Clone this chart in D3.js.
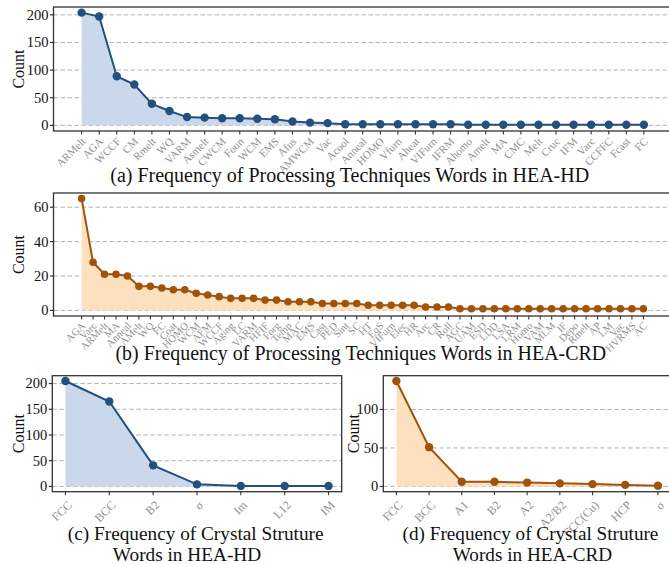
<!DOCTYPE html>
<html><head><meta charset="utf-8">
<script src="https://cdn.jsdelivr.net/npm/d3@7"></script>
<style>body{margin:0;background:#fff} svg{display:block}</style>
</head><body><svg id="c" width="669" height="564"></svg>
<script>
// ---------- DATA ----------
const catsA = ["ARMelt","AGA","WCCF","CM","Rmelt","WQ","VARM","Asmelt","CWCM","Foun","WCM","EMS","Afus","AMWCM","Vac","Acool","Anneal","HOMO","Vfurn","Aheat","VIFurn","IFRM","Ahomo","Amelt","MA","CMC","Melt","Cruc","IFM","Varc","CCFFC","Fcast","FC"];
const valsA = [204,197,89,74,39,26,15,14,13,13,12,11,7,5,4,2,2,2,2,2,2,2,1,1,1,1,1,1,1,1,1,1,1];
const ticksA = [0,50,100,150,200];

const catsB = ["AGA","Varc","ARMelt","MA","Anneal","AMelt","WQ","FC","Coat","HOMO","WCM","AFM","WCCF","Aging","LC","VARM","HFIF","Forg","Temp","MAC","EMS","Cast","PED","Sint","SC","HT","EqS","VIFurn","Elec","HR","Arc","CR","Roll","AGC","UAM","ESD","LDD","LSA","LRM","Homo","VAM","MLM","IF","Depo","Rmelt","AP","LM","Vac","HVRMS","AC"];
const valsB = [65,28,21,21,20,14,14,13,12,12,10,9,8,7,7,7,6,6,5,5,5,4,4,4,4,3,3,3,3,3,2,2,2,1,1,1,1,1,1,1,1,1,1,1,1,1,1,1,1,1];
const ticksB = [0,20,40,60];

const catsC = ["FCC","BCC","B2","σ","Im","L12","IM"];
const valsC = [205,165,41,4,1,1,1];
const ticksC = [0,50,100,150,200];

const catsD = ["FCC","BCC","A1","B2","A2","A2/B2","FCC(Cu)","HCP","σ"];
const valsD = [137,51,6,6,5,4,3,2,1];
const ticksD = [0,50,100];

const captionA = ["(a) Frequency of Processing Techniques Words in HEA-HD"];
const captionB = ["(b) Frequency of Processing Techniques Words in HEA-CRD"];
const captionC = ["(c) Frequency of Crystal Struture", "Words in HEA-HD"];
const captionD = ["(d) Frequency of Crystal Struture", "Words in HEA-CRD"];

// ---------- STYLE ----------
const BLUE = {line:"#23507c", fill:"#c9d8eb"};
const ORANGE = {line:"#a0530b", fill:"#fde1bf"};
const FONT = "'Liberation Serif','Times New Roman',serif";

const svg = d3.select("#c");

function panel(cfg){
  const g = svg.append("g");
  const n = cfg.cats.length;
  const maxV = d3.max(cfg.vals);
  const x = d3.scaleLinear().domain([-(n-1)*0.05, (n-1)*1.05]).range([cfg.left, cfg.right]);
  const y = d3.scaleLinear().domain([-maxV*0.05, maxV*1.05]).range([cfg.bottom, cfg.top]);

  const cid = "clip"+cfg.id;
  svg.append("clipPath").attr("id",cid).append("rect")
    .attr("x",cfg.left).attr("y",cfg.top).attr("width",cfg.right-cfg.left).attr("height",cfg.bottom-cfg.top);

  g.append("g").selectAll("line").data(cfg.ticks).join("line")
    .attr("x1",cfg.left).attr("x2",cfg.right)
    .attr("y1",d=>y(d)).attr("y2",d=>y(d))
    .attr("stroke","#b4b4b4").attr("stroke-width",1).attr("stroke-dasharray","4.5,2.5");

  const pts = cfg.vals.map((v,i)=>[i,v]);
  const inner = g.append("g").attr("clip-path",`url(#${cid})`);
  inner.append("path").datum(pts)
    .attr("d", d3.area().x(d=>x(d[0])).y0(y(0)).y1(d=>y(d[1])))
    .attr("fill",cfg.color.fill).attr("stroke","none");
  inner.append("path").datum(pts)
    .attr("d", d3.line().x(d=>x(d[0])).y(d=>y(d[1])))
    .attr("fill","none").attr("stroke",cfg.color.line).attr("stroke-width",2);
  inner.append("g").selectAll("circle").data(pts).join("circle")
    .attr("cx",d=>x(d[0])).attr("cy",d=>y(d[1])).attr("r",cfg.r)
    .attr("fill",cfg.color.line);

  g.append("rect").attr("x",cfg.left).attr("y",cfg.top)
    .attr("width",cfg.right-cfg.left).attr("height",cfg.bottom-cfg.top)
    .attr("fill","none").attr("stroke","#333").attr("stroke-width",1.3);

  const yt = g.append("g");
  yt.selectAll("line").data(cfg.ticks).join("line")
    .attr("x1",cfg.left-3.5).attr("x2",cfg.left).attr("y1",d=>y(d)).attr("y2",d=>y(d))
    .attr("stroke","#333").attr("stroke-width",1.2);
  yt.selectAll("text").data(cfg.ticks).join("text")
    .attr("x",cfg.left-5).attr("y",d=>y(d)).attr("dy","0.34em")
    .attr("text-anchor","end").attr("font-family",FONT).attr("font-size",14.5)
    .attr("fill","#111").text(d=>d);

  const xt = g.append("g");
  xt.selectAll("line").data(cfg.cats).join("line")
    .attr("x1",(d,i)=>x(i)).attr("x2",(d,i)=>x(i))
    .attr("y1",cfg.bottom).attr("y2",cfg.bottom+3.5)
    .attr("stroke","#333").attr("stroke-width",1.1);
  xt.selectAll("text").data(cfg.cats).join("text")
    .attr("transform",(d,i)=>`translate(${x(i)+cfg.lx},${cfg.bottom+cfg.ly}) rotate(-45)`)
    .attr("dy","0.72em").attr("text-anchor","end")
    .attr("font-family",FONT).attr("font-size",cfg.xfs).attr("fill","#8f8f8f")
    .text(d=>d);

  g.append("text")
    .attr("transform",`translate(${cfg.ylabX},${(cfg.top+cfg.bottom)/2}) rotate(-90)`)
    .attr("dy","0.35em").attr("text-anchor","middle")
    .attr("font-family",FONT).attr("font-size",16).attr("fill","#111").text("Count");

  // caption: font size fitted from the first line, shared by all lines
  const probe = g.append("text").attr("font-family",FONT).attr("font-size",20).text(cfg.caption[0]);
  const fs = 20*cfg.capW/probe.node().getComputedTextLength();
  probe.remove();
  cfg.caption.forEach((line,k)=>{
    g.append("text").attr("x",cfg.capX[k]).attr("y",cfg.capY[k])
      .attr("text-anchor","middle").attr("font-family",FONT).attr("font-size",fs)
      .attr("fill","#111").text(line);
  });
}

panel({id:"a",cats:catsA,vals:valsA,ticks:ticksA,color:BLUE,left:53.5,right:672,top:7,bottom:131,
  r:4.2,xfs:11,lx:-1,ly:5.5,ylabX:18,caption:captionA,capX:[349.7],capY:[182],capW:479});
panel({id:"b",cats:catsB,vals:valsB,ticks:ticksB,color:ORANGE,left:53.5,right:671.5,top:193,bottom:316,
  r:3.8,xfs:10.5,lx:-1,ly:5,ylabX:18,caption:captionB,capX:[360.8],capY:[360],capW:491});
panel({id:"c",cats:catsC,vals:valsC,ticks:ticksC,color:BLUE,left:52.3,right:341.7,top:375.7,bottom:491.7,
  r:4.2,xfs:12,lx:1,ly:8,ylabX:18,caption:captionC,capX:[195.7,187],capY:[540,561],capW:256});
panel({id:"d",cats:catsD,vals:valsD,ticks:ticksD,color:ORANGE,left:383.3,right:671,top:375.7,bottom:491.7,
  r:4.2,xfs:12,lx:1,ly:8,ylabX:353,caption:captionD,capX:[530.5,532.5],capY:[540,561],capW:256});
</script>
</body></html>
